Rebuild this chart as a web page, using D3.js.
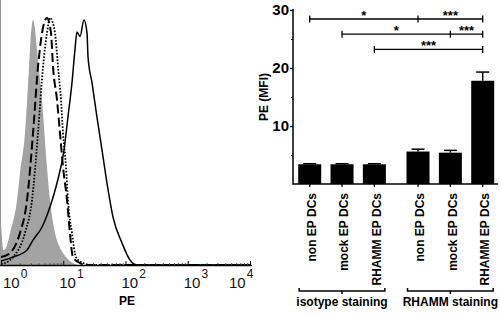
<!DOCTYPE html>
<html>
<head>
<meta charset="utf-8">
<script src="https://cdn.jsdelivr.net/npm/d3@7"></script>
<style>
    body{margin:0;background:#fff;}
    svg{font-family:"Liberation Sans",Arial,sans-serif;display:block;}
</style>
</head>
<body>
<svg id="chart" width="500" height="314"></svg>
<script>
// histogram data: [PE, % of max]
const isotypeHist = [[1.0,17],[1.1,6],[1.25,8],[1.4,13],[1.81,26.3],[2.02,37.2],[2.43,53.4],[2.82,80.2],[3.0,92],[3.27,99.2],[3.5,96],[3.79,87],[4.56,66.8],[5.48,39.7],[6.12,26.3],[7.37,13],[8.5,8],[9.91,4.9],[14.3,0.8],[17,0],[10000,0]];
const mockHist = [[1.0,3.2],[1.4,4.9],[2.02,13],[2.62,26.3],[3.27,53.4],[3.93,80.2],[4.56,93.9],[5.48,100],[6.36,93.9],[6.85,80.2],[7.94,66.8],[8.87,53.4],[9.91,39.7],[11.5,26.3],[12.8,13],[14.3,3.2],[18.6,0.8],[25,0],[10000,0]];
const nonHist = [[1.0,0.5],[1.16,0.8],[1.56,3.2],[2.43,13],[3.15,26.3],[3.93,53.4],[4.73,80.2],[5.48,93.9],[6.12,100],[7.37,93.9],[8.24,80.2],[9.2,66.8],[9.91,53.4],[11.07,39.7],[11.9,26.3],[13.8,13],[16.0,3.2],[20.8,0.8],[30,0],[10000,0]];
const rhammHist = [[1.0,1.6],[1.56,3.2],[2.62,6.1],[3.27,10.1],[4.56,15.4],[6.12,23.5],[7.94,33.2],[10.3,46.6],[11.9,59.9],[13.8,73.7],[15.4,87],[16.6,94.3],[18.6,92.5],[21.5,99.2],[24.1,93.9],[25.0,84.2],[29.0,73.7],[34.8,59.9],[41.9,46.6],[50.4,33.2],[63,19.4],[87.9,8.9],[118,2],[153,0],[10000,0]];
const decades = [1,10,100,1000,10000];

// bar chart data
const groups = ['isotype staining','RHAMM staining'];
const categories = ['non EP DCs','mock EP DCs','RHAMM EP DCs'];
const mfi = [3.4,3.4,3.4,5.6,5.4,17.8];
const mfiErr = [0.1,0.1,0.1,0.4,0.4,1.5];
const yTicks = [10,20,30];
const yMinor = [5,15,25];
// significance rows: bar indices and labels per segment
const sigRows = [
    {bars:[0,3,5], labels:['*','***']},
    {bars:[1,4,5], labels:['*','***']},
    {bars:[2,5], labels:['***']}
];

const svg = d3.select('#chart');

// ---- left: histogram ----
const hx = d3.scaleLog().domain([1,10000]).range([1,250]);
const hy = d3.scaleLinear().domain([0,100]).range([265,18]);
const hLine = d3.line().x(d=>hx(d[0])).y(d=>hy(d[1])).curve(d3.curveMonotoneX);
const hArea = d3.area().x(d=>hx(d[0])).y0(hy(0)).y1(d=>hy(d[1])).curve(d3.curveMonotoneX);

svg.append('path').attr('d',hArea(isotypeHist)).attr('fill','#a3a3a3');
svg.append('line').attr('x1',0.5).attr('x2',0.5).attr('y1',0).attr('y2',265)
    .attr('stroke','#999').attr('stroke-width',1);

svg.append('path').attr('d',hLine(mockHist)).attr('fill','none')
    .attr('stroke','#000').attr('stroke-width',2).attr('stroke-dasharray','9,4');
svg.append('path').attr('d',hLine(nonHist)).attr('fill','none')
    .attr('stroke','#000').attr('stroke-width',1.8).attr('stroke-dasharray','1.6,1.6');
svg.append('path').attr('d',hLine(rhammHist)).attr('fill','none')
    .attr('stroke','#000').attr('stroke-width',1.5);

const minor = [];
decades.slice(0,-1).forEach(d=>{ for (let k=2;k<10;k++) minor.push(d*k); });
svg.append('g')
    .attr('transform','translate(0,265)')
    .call(d3.axisBottom(hx).tickValues(minor).tickSize(-2).tickFormat(''))
    .call(g=>g.select('.domain').remove())
    .selectAll('line').attr('stroke','#555');
svg.append('g')
    .attr('transform','translate(0,265)')
    .call(d3.axisBottom(hx).tickValues(decades).tickSize(-4).tickFormat(''))
    .call(g=>g.select('.domain').remove());
svg.append('line').attr('x1',0).attr('x2',252).attr('y1',265.5).attr('y2',265.5)
    .attr('stroke','#000').attr('stroke-width',1.3);

const decLab = svg.append('g').selectAll('text').data(decades).join('text')
    .attr('x',d=>Math.min(Math.max(hx(d)-4,3),229))
    .attr('y',288)
    .attr('font-size',15)
    .attr('fill','#111');
decLab.append('tspan').text('10');
decLab.append('tspan').attr('dx',1).attr('dy',-10).attr('font-size',12)
    .text(d=>Math.round(Math.log10(d)));

svg.append('text').attr('x',127).attr('y',305).attr('text-anchor','middle')
    .attr('font-size',12).attr('font-weight','bold').text('PE');

// ---- right: bar chart ----
const y = d3.scaleLinear().domain([0,30]).range([184,10]);
const groupGap = 0.35;
const barPos = mfi.map((v,i)=>i + Math.floor(i/categories.length)*groupGap);
const x = d3.scaleLinear().domain([0,d3.max(barPos)]).range([309.7,482.7]);
const barW = 23;

svg.append('g')
    .attr('transform','translate(293,0)')
    .call(d3.axisLeft(y).tickValues(yTicks).tickSize(3).tickPadding(1))
    .call(g=>g.select('.domain').remove())
    .call(g=>g.selectAll('line').attr('stroke-width',1.3))
    .call(g=>g.selectAll('text').attr('font-size',15).attr('font-weight','bold')
        .attr('font-family','"Liberation Sans",Arial,sans-serif'));
svg.append('g')
    .attr('transform','translate(293,0)')
    .call(d3.axisLeft(y).tickValues(yMinor).tickSize(2).tickFormat(''))
    .call(g=>g.select('.domain').remove());

svg.append('g').selectAll('rect').data(mfi).join('rect')
    .attr('x',(d,i)=>x(barPos[i])-barW/2)
    .attr('width',barW)
    .attr('y',d=>y(d))
    .attr('height',d=>y(0)-y(d))
    .attr('fill','#000');

const err = svg.append('g').attr('stroke','#000').attr('stroke-width',1.5);
mfi.forEach((v,i)=>{
    const cx = x(barPos[i]);
    err.append('line').attr('x1',cx).attr('x2',cx).attr('y1',y(v)).attr('y2',y(v+mfiErr[i]));
    err.append('line').attr('x1',cx-6.5).attr('x2',cx+6.5).attr('y1',y(v+mfiErr[i])).attr('y2',y(v+mfiErr[i]));
});

// axes lines
svg.append('path').attr('d',`M293,${y(30)-1}V${y(0)}H498`)
    .attr('fill','none').attr('stroke','#000').attr('stroke-width',1.5);
svg.append('g').selectAll('line').data(barPos).join('line')
    .attr('x1',d=>x(d)).attr('x2',d=>x(d))
    .attr('y1',y(0)).attr('y2',y(0)+3)
    .attr('stroke','#000').attr('stroke-width',1.3);

svg.append('g').selectAll('text').data(mfi).join('text')
    .attr('transform',(d,i)=>`translate(${x(barPos[i])+2},193) rotate(-90)`)
    .attr('text-anchor','end')
    .attr('dy','0.35em')
    .attr('font-size',12)
    .attr('font-weight','bold')
    .text((d,i)=>categories[i%categories.length]);

svg.append('text')
    .attr('transform','translate(264,97) rotate(-90)')
    .attr('text-anchor','middle').attr('dy','0.35em')
    .attr('font-size',12).attr('font-weight','bold').text('PE (MFI)');

// group brackets
groups.forEach((gName,gi)=>{
    const idx = d3.range(categories.length).map(k=>gi*categories.length+k);
    const x0 = x(barPos[idx[0]])-barW/2+1, x1 = x(barPos[idx[idx.length-1]])+barW/2-1;
    const xm = (x0+x1)/2;
    svg.append('path').attr('d',`M${x0},288V291H${x1}V288M${xm},291V294`)
        .attr('fill','none').attr('stroke','#000').attr('stroke-width',1.5);
    svg.append('text').attr('x',xm).attr('y',306).attr('text-anchor','middle')
        .attr('font-size',12).attr('font-weight','bold').text(gName);
});

// significance brackets
const sigTop = 19, sigStep = 15.2;
sigRows.forEach((row,ri)=>{
    const ly = sigTop + ri*sigStep;
    const xs = row.bars.map(b=>x(barPos[b]));
    const g = svg.append('g');
    g.append('line').attr('x1',xs[0]).attr('x2',xs[xs.length-1]).attr('y1',ly).attr('y2',ly)
        .attr('stroke','#000').attr('stroke-width',1.3);
    xs.forEach(px=>g.append('line').attr('x1',px).attr('x2',px).attr('y1',ly-3.5).attr('y2',ly+3.5)
        .attr('stroke','#000').attr('stroke-width',1.3));
    row.labels.forEach((lab,k)=>{
        g.append('text').attr('x',(xs[k]+xs[k+1])/2).attr('y',ly+1)
            .attr('text-anchor','middle').attr('font-size',13).attr('font-weight','bold')
            .text(lab);
    });
});
</script>
</body>
</html>
